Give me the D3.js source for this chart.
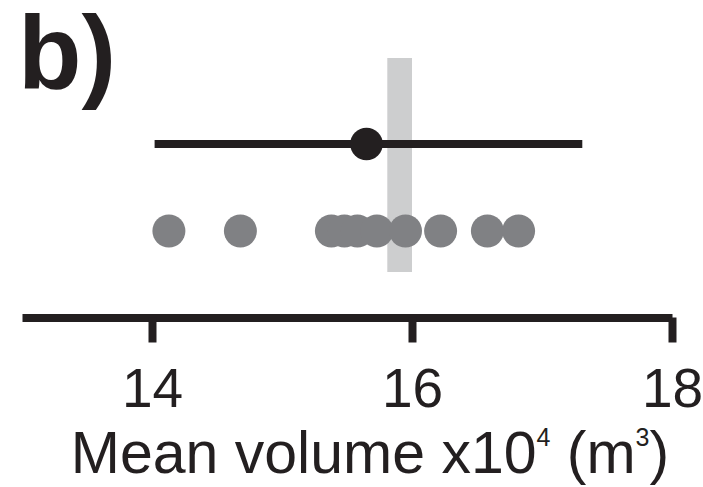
<!DOCTYPE html>
<html>
<head>
<meta charset="utf-8">
<script src="https://cdn.jsdelivr.net/npm/d3@7"></script>
<style>
  body { margin: 0; background: #fff; }
  text { font-family: "Liberation Sans", Arial, Helvetica, sans-serif; fill: #231f20; }
</style>
</head>
<body>
<div id="chart"></div>
<script>
// values (volume in x10^4 m3)
var tickValues = [14, 16, 18]
var meanValue = 15.65
var errorRange = [14.02, 17.31]
var referenceBand = [15.81, 16.0]
var runValues = [14.13, 14.68, 15.38, 15.48, 15.58, 15.73, 15.95, 16.22, 16.58, 16.82]
var rows = ["mean", "runs"]

var width = 703
var height = 487
var ink = "#231f20"

var svg = d3.select("#chart")
  .append("svg")
    .attr("width", width)
    .attr("height", height)

var x = d3.scaleLinear()
  .domain([13, 18])
  .range([22, 672])

var y = d3.scalePoint()
  .domain(rows)
  .range([144, 231])

// grey reference band
svg.append("rect")
  .attr("x", x(referenceBand[0]))
  .attr("width", x(referenceBand[1]) - x(referenceBand[0]))
  .attr("y", 58)
  .attr("height", 272 - 58)
  .style("fill", "#cdcecf")

// individual values
svg.append("g")
  .selectAll("circle")
  .data(runValues)
  .enter().append("circle")
    .attr("cx", d => x(d))
    .attr("cy", y("runs"))
    .attr("r", 16.5)
    .style("fill", "#808184")

// error bar + mean
svg.append("line")
  .attr("x1", x(errorRange[0]))
  .attr("x2", x(errorRange[1]))
  .attr("y1", y("mean"))
  .attr("y2", y("mean"))
  .attr("stroke", ink)
  .attr("stroke-width", 8)

svg.append("circle")
  .attr("cx", x(meanValue))
  .attr("cy", y("mean"))
  .attr("r", 16.3)
  .style("fill", ink)

// x axis
var axis = svg.append("g")
  .attr("transform", "translate(0,317.5)")
  .call(d3.axisBottom(x)
          .tickValues(tickValues)
          .tickFormat(d3.format("d"))
          .tickSize(25)
          .tickSizeOuter(0)
          .tickPadding(25))

axis.select(".domain")
  .attr("stroke", ink)
  .attr("stroke-width", 8)
axis.selectAll(".tick line")
  .attr("stroke", ink)
  .attr("stroke-width", 8)
axis.selectAll(".tick text")
  .style("font-size", "55px")
  .style("font-family", "Liberation Sans, Arial, sans-serif")
  .attr("fill", ink)

// axis title
var title = svg.append("text")
  .attr("x", 370)
  .attr("y", 473)
  .attr("text-anchor", "middle")
  .style("font-size", "59px")
title.append("tspan").text("Mean volume x10")
title.append("tspan").text("4").attr("dy", -27).style("font-size", "25px")
title.append("tspan").text(" (m").attr("dy", 27)
title.append("tspan").text("3").attr("dy", -27).style("font-size", "25px")
title.append("tspan").text(")").attr("dy", 27)

// panel label
svg.append("text")
  .attr("x", 18)
  .attr("y", 88)
  .style("font-size", "104px")
  .style("font-weight", "bold")
  .text("b)")
</script>
</body>
</html>
